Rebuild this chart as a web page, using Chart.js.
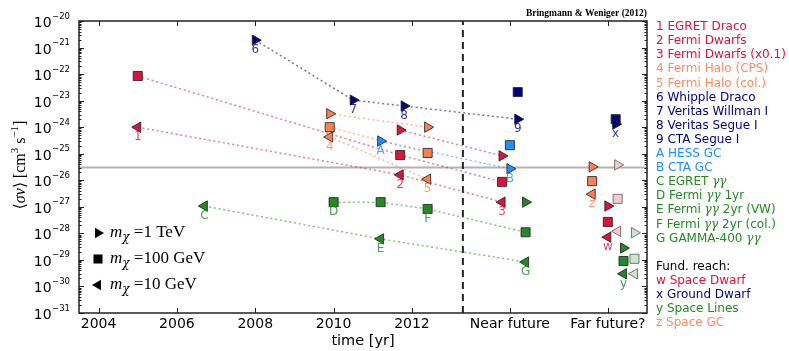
<!DOCTYPE html>
<html>
<head>
<meta charset="utf-8">
<script src="https://cdn.jsdelivr.net/npm/chart.js@4.4.1/dist/chart.umd.min.js"></script>
<style>
  html, body { margin: 0; padding: 0; background: #fff; }
  #wrap { width: 789px; height: 351px; }
</style>
</head>
<body>
<div id="wrap"><canvas id="chart" width="789" height="351"></canvas></div>
<script>
// experiment ids, as printed next to the points
const ids = ['1', '2', '3', '4', '5', '6', '7', '8', '9', 'A', 'B', 'C', 'D', 'E', 'F', 'G', 'w', 'x', 'y', 'z'];
// time of each limit (near future ~2014.5, far future ~2017)
const years = [2005.0, 2011.7, 2014.3, 2009.9, 2012.4, 2008.0, 2010.5, 2011.8, 2014.7, 2011.2, 2014.5, 2006.7, 2010.0, 2011.2, 2012.4, 2014.9, 2017.0, 2017.2, 2017.4, 2016.6];
// <sigma v> in cm^3/s, null where no point
const sv1TeV = [null, 7.8e-25, 8.3e-26, 3.2e-24, 1.0e-24, 1.9e-21, 1.05e-23, 6.3e-24, 2.0e-24, 3.0e-25, 2.7e-26, null, null, null, null, 1.5e-27, 1.07e-27, 1.3e-24, 2.8e-29, 3.2e-26];
const sv100GeV = [8.5e-23, 8.9e-26, 8.7e-27, 1.0e-24, 1.07e-25, null, null, null, 2.1e-23, null, 2.1e-25, null, 1.5e-27, 1.5e-27, 8.3e-28, 1.1e-28, 2.7e-28, 2.0e-24, 9.1e-30, 9.3e-27];
const sv10GeV = [1.0e-24, 1.6e-26, 1.5e-27, 4.3e-25, 1.1e-26, null, null, null, null, null, null, 1.07e-27, null, 6.2e-29, null, 8.3e-30, 7.2e-29, null, 3.0e-30, 3.0e-27];

// optimistic fundamental reach (pale markers): dwarfs, lines
const optYears = [2017.25, 2017.68];
const opt1TeV = [3.8e-26, 1.05e-28];
const opt100GeV = [2.0e-27, 1.1e-29];
const opt10GeV = [1.2e-28, 3.0e-30];

// dotted connections: which mass and which ids
const chains = [
    ['sq', ['1', '2', '3']], ['ten', ['1', '2', '3']], ['tev', ['2', '3']],
    ['tev', ['4', '5']], ['sq', ['4', '5']], ['ten', ['4', '5']],
    ['tev', ['6', '7', '8', '9']], ['tev', ['A', 'B']],
    ['ten', ['C', 'E', 'G']], ['sq', ['D', 'E', 'F', 'G']]
];

const thermalSv = 3e-26;
const dividerYear = 2013.3;

const xTickValues = [2004, 2006, 2008, 2010, 2012, 2014.5, 2017];
const xTickLabels = ['2004', '2006', '2008', '2010', '2012', 'Near future', 'Far future?'];
const yTickExponents = [-31, -30, -29, -28, -27, -26, -25, -24, -23, -22, -21, -20];

const legendLines = [
    '1 EGRET Draco', '2 Fermi Dwarfs', '3 Fermi Dwarfs (x0.1)', '4 Fermi Halo (CPS)', '5 Fermi Halo (col.)',
    '6 Whipple Draco', '7 Veritas Willman I', '8 Veritas Segue I', '9 CTA Segue I', 'A HESS GC', 'B CTA GC',
    'C EGRET γγ', 'D Fermi γγ 1yr', 'E Fermi γγ 2yr (VW)', 'F Fermi γγ 2yr (col.)', 'G GAMMA-400 γγ',
    '', 'Fund. reach:', 'w Space Dwarf', 'x Ground Dwarf', 'y Space Lines', 'z Space GC'
];
const massLabels = ['1 TeV', '100 GeV', '10 GeV'];

const COLORS = {
    crimson: [220, 20, 60],
    coral: [255, 127, 80],
    navy: [0, 0, 128],
    dodger: [30, 144, 255],
    green: [34, 139, 34],
    black: [0, 0, 0]
};

function groupOf(id) {
    if ('123w'.includes(id)) return 'crimson';
    if ('45z'.includes(id)) return 'coral';
    if ('6789x'.includes(id)) return 'navy';
    if ('AB'.includes(id)) return 'dodger';
    return 'green';
}

function rgba(name, a) {
    const c = COLORS[name];
    return `rgba(${c[0]},${c[1]},${c[2]},${a})`;
}

function legendColor(line) {
    if (line === '' || line.startsWith('Fund')) return 'black';
    return groupOf(line[0]);
}

const series = { tev: sv1TeV, sq: sv100GeV, ten: sv10GeV };
const shapes = {
    tev: { style: 'triangle', rot: 90, r: 6 },
    sq: { style: 'rect', rot: 0, r: 6.4 },
    ten: { style: 'triangle', rot: -90, r: 6 }
};

function markerSet(key) {
    const pts = [];
    const fills = [];
    ids.forEach((id, i) => {
        if (series[key][i] == null) return;
        pts.push({ x: years[i], y: series[key][i] });
        fills.push(rgba(groupOf(id), 1));
    });
    return {
        data: pts,
        showLine: false,
        pointStyle: shapes[key].style,
        pointRotation: shapes[key].rot,
        pointRadius: shapes[key].r,
        pointBackgroundColor: fills,
        pointBorderColor: 'rgba(35,35,35,0.85)',
        pointBorderWidth: 1,
        order: 0
    };
}

function optSet(values, key) {
    return {
        data: optYears.map((x, i) => ({ x, y: values[i] })),
        showLine: false,
        pointStyle: shapes[key].style,
        pointRotation: shapes[key].rot,
        pointRadius: shapes[key].r,
        pointBackgroundColor: ['#F6C9D0', '#CDE5CD'],
        pointBorderColor: 'rgba(90,90,90,0.8)',
        pointBorderWidth: 1,
        order: 1
    };
}

function chainSet([key, list]) {
    return {
        data: list.map(id => ({ x: years[ids.indexOf(id)], y: series[key][ids.indexOf(id)] })),
        showLine: true,
        borderColor: rgba(groupOf(list[0]), 0.55),
        borderWidth: 1.5,
        borderDash: [2, 2.8],
        pointRadius: 0,
        order: 5
    };
}

const datasets = [
    {
        data: [{ x: 2003.5, y: thermalSv }, { x: 2018, y: thermalSv }],
        showLine: true, borderColor: '#b3b3b3', borderWidth: 2, pointRadius: 0, order: 10
    },
    {
        data: [{ x: dividerYear, y: 1e-31 }, { x: dividerYear, y: 1e-20 }],
        showLine: true, borderColor: '#262626', borderWidth: 2, borderDash: [7, 5], pointRadius: 0, order: 9
    },
    ...chains.map(chainSet),
    optSet(opt1TeV, 'tev'), optSet(opt100GeV, 'sq'), optSet(opt10GeV, 'ten'),
    markerSet('tev'), markerSet('sq'), markerSet('ten')
];

// draws a list of text pieces with their own fonts one after another
function drawRich(ctx, segs, x, y, align) {
    let total = 0;
    segs.forEach(s => { ctx.font = s.f; s.w = ctx.measureText(s.t).width + (s.gap || 0); total += s.w; });
    let cx = align === 'center' ? x - total / 2 : align === 'right' ? x - total : x;
    ctx.textAlign = 'left';
    segs.forEach(s => {
        ctx.font = s.f;
        ctx.fillText(s.t, cx + (s.gap || 0), y + (s.dy || 0));
        cx += s.w;
    });
}

function drawMarker(ctx, key, x, y, fill) {
    const s = shapes[key];
    ctx.beginPath();
    if (s.style === 'rect') {
        const h = s.r * Math.SQRT1_2;
        ctx.rect(x - h, y - h, 2 * h, 2 * h);
    } else {
        const dir = s.rot > 0 ? 1 : -1;
        ctx.moveTo(x + dir * s.r, y);
        ctx.lineTo(x - dir * s.r / 2, y - s.r * 0.866);
        ctx.lineTo(x - dir * s.r / 2, y + s.r * 0.866);
        ctx.closePath();
    }
    ctx.fillStyle = fill;
    ctx.fill();
}

const decor = {
    id: 'decor',
    afterDatasetsDraw(chart) {
        const { ctx, chartArea: a, scales: { x, y } } = chart;
        ctx.save();
        ctx.strokeStyle = '#222';
        ctx.lineWidth = 1;
        // y ticks, both sides, inward
        for (let e = -31; e <= -20; e++) {
            for (let k = 1; k <= 9; k++) {
                if (e === -20 && k > 1) break;
                const py = Math.round(y.getPixelForValue(k * Math.pow(10, e))) + 0.5;
                const len = k === 1 ? 5 : 2.5;
                ctx.beginPath();
                ctx.moveTo(a.left, py); ctx.lineTo(a.left + len, py);
                ctx.moveTo(a.right, py); ctx.lineTo(a.right - len, py);
                ctx.stroke();
            }
        }
        // x ticks, top and bottom
        xTickValues.forEach(v => {
            const px = Math.round(x.getPixelForValue(v)) + 0.5;
            ctx.beginPath();
            ctx.moveTo(px, a.top); ctx.lineTo(px, a.top + 5);
            ctx.moveTo(px, a.bottom); ctx.lineTo(px, a.bottom - 5);
            ctx.stroke();
        });
        ctx.lineWidth = 1.5;
        ctx.strokeRect(a.left, a.top, a.right - a.left, a.bottom - a.top);

        // point ids under the lowest marker of each experiment
        ctx.font = '12px "DejaVu Sans"';
        ctx.textAlign = 'center';
        ctx.textBaseline = 'middle';
        ids.forEach((id, i) => {
            const vals = [sv1TeV[i], sv100GeV[i], sv10GeV[i]].filter(v => v != null);
            const low = Math.min(...vals);
            ctx.fillStyle = rgba(groupOf(id), 0.8);
            ctx.fillText(id, x.getPixelForValue(years[i]), y.getPixelForValue(low) + 10);
        });
        ctx.restore();
    },
    afterDraw(chart) {
        const { ctx, chartArea: a, scales: { y } } = chart;
        ctx.save();

        // y tick labels 10^n
        ctx.fillStyle = '#000';
        ctx.textBaseline = 'alphabetic';
        yTickExponents.forEach(e => {
            const py = y.getPixelForValue(Math.pow(10, e));
            drawRich(ctx, [
                { t: '10', f: '14px "DejaVu Sans"' },
                { t: '−' + Math.abs(e), f: '8.5px "DejaVu Sans"', dy: -8.5, gap: 0.5 }
            ], a.left - 9, py + 6, 'right');
        });

        // mass legend inside the plot
        ['tev', 'sq', 'ten'].forEach((key, i) => {
            const cy = 233 + i * 26;
            drawMarker(ctx, key, a.left + 19, cy, '#000');
            ctx.fillStyle = '#000';
            ctx.textBaseline = 'alphabetic';
            drawRich(ctx, [
                { t: 'm', f: 'italic 17px "Liberation Serif"' },
                { t: 'χ', f: 'italic 12px "DejaVu Serif"', dy: 4 },
                { t: ' =' + massLabels[i], f: '17px "Liberation Serif"' }
            ], a.left + 31, cy + 4, 'left');
        });

        // experiment legend on the right
        ctx.textBaseline = 'middle';
        legendLines.forEach((line, i) => {
            if (!line) return;
            ctx.fillStyle = rgba(legendColor(line), legendColor(line) === 'coral' ? 0.9 : 1);
            const parts = line.split('γγ');
            const segs = [];
            parts.forEach((p, j) => {
                if (p) segs.push({ t: p, f: '12px "DejaVu Sans"' });
                if (j < parts.length - 1) segs.push({ t: 'γγ', f: 'italic 12px "DejaVu Serif"' });
            });
            drawRich(ctx, segs, 656, 27 + i * 14.1, 'left');
        });

        // credit line
        ctx.fillStyle = '#000';
        ctx.font = 'bold 9.5px "Liberation Serif"';
        ctx.textAlign = 'right';
        ctx.fillText('Bringmann & Weniger (2012)', a.right, 14);

        // axis titles
        ctx.textAlign = 'center';
        ctx.font = '14.5px "DejaVu Sans"';
        ctx.fillText('time [yr]', (a.left + a.right) / 2, 341);

        ctx.translate(21, 165);
        ctx.rotate(-Math.PI / 2);
        ctx.textBaseline = 'middle';
        drawRich(ctx, [
            { t: '⟨', f: '16px "DejaVu Serif"' },
            { t: 'σv', f: 'italic 16px "Liberation Serif"' },
            { t: '⟩ [cm', f: '16px "Liberation Serif"' },
            { t: '3', f: '11px "Liberation Serif"', dy: -6 },
            { t: ' s', f: '16px "Liberation Serif"' },
            { t: '−1', f: '11px "Liberation Serif"', dy: -6 },
            { t: ']', f: '16px "Liberation Serif"' }
        ], 0, 0, 'center');
        ctx.restore();
    }
};

new Chart(document.getElementById('chart'), {
    type: 'scatter',
    data: { datasets },
    options: {
        responsive: false,
        animation: false,
        layout: { padding: { left: 0, right: 142, top: 21, bottom: 0 } },
        plugins: { legend: { display: false }, tooltip: { enabled: false } },
        scales: {
            x: {
                type: 'linear',
                min: 2003.5,
                max: 2018,
                grid: { display: false, drawTicks: false },
                border: { display: false },
                afterBuildTicks: s => { s.ticks = xTickValues.map(value => ({ value })); },
                afterFit: s => { s.height = 38; },
                ticks: {
                    autoSkip: false,
                    maxRotation: 0,
                    padding: 3,
                    color: '#000',
                    font: { family: 'DejaVu Sans', size: 14 },
                    callback: v => xTickLabels[xTickValues.indexOf(v)]
                }
            },
            y: {
                type: 'logarithmic',
                min: 1e-31,
                max: 1e-20,
                grid: { display: false, drawTicks: false },
                border: { display: false },
                afterBuildTicks: s => {
                    s.ticks = yTickExponents.map(e => ({ value: Math.pow(10, e), major: true }));
                },
                afterFit: s => { s.width = 79; },
                // labels with raised exponents are drawn by the decor plugin
                ticks: { display: false }
            }
        }
    },
    plugins: [decor]
});
</script>
</body>
</html>
